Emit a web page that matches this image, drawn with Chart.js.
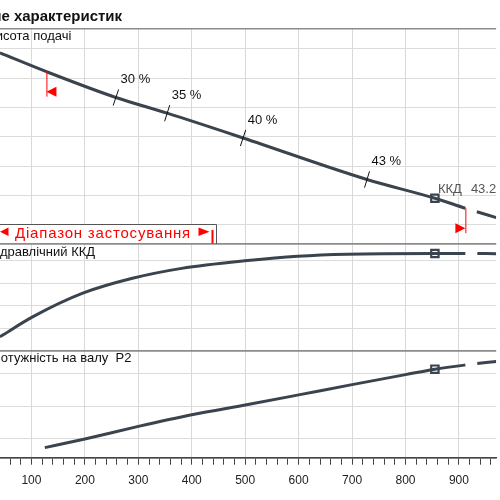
<!DOCTYPE html>
<html>
<head>
<meta charset="utf-8">
<style>
  html, body { margin: 0; padding: 0; background: #fff; overflow: hidden; }
  #wrap { position: relative; width: 500px; height: 500px; }
</style>
</head>
<body>
<div id="wrap"><canvas id="chart" width="500" height="500"></canvas></div>
<script src="https://cdn.jsdelivr.net/npm/chart.js@4.4.1/dist/chart.umd.min.js"></script>
<script>
// flow (x) and curve values
const headFlow = [41, 128, 258, 354, 496, 728, 855, 912, 970];
const headValues = [21.73, 20.45, 18.69, 17.62, 15.93, 13.10, 11.82, 11.14, 10.50];

const effFlow = [41, 103, 196, 289, 381, 505, 598, 691, 855, 912, 970];
const effValues = [6.3, 15.2, 25.6, 32.2, 36.6, 40.1, 42.0, 42.9, 43.2, 43.2, 43.1];

const powerFlow = [125, 200, 300, 400, 505, 600, 700, 800, 855, 912, 970];
const powerValues = [0.71, 0.98, 1.37, 1.73, 2.05, 2.35, 2.67, 2.98, 3.15, 3.28, 3.39];

// duty point
const dutyFlow = 855;
const dutyHead = 11.82;
const dutyEff = 43.2;
const dutyPower = 3.15;

// application range
const rangeMin = 128;
const rangeMax = 912;

// efficiency marks on the head curve
const effMarkFlow = [258, 354, 496, 728];
const effMarkLabels = ['30 %', '35 %', '40 %', '43 %'];

// axes
const xTickLabels = [100, 200, 300, 400, 500, 600, 700, 800, 900];
const xMinorStep = 20;
const headGrid = [10, 12, 14, 16, 18, 20, 22];
const effGrid = [10, 20, 30, 40];
const powerGrid = [1, 2, 3];

const panelTitles = ['Висота подачі', 'Гідравлічний ККД', 'Потужність на валу  P2'];
const chartTitle = 'Поле характеристик';
const rangeText = 'Діапазон застосування';

const lineColor = '#3a444e';
const FONT = '"Liberation Sans", Arial, sans-serif';

Chart.defaults.font.family = FONT;

const toPoints = (xs, ys) => xs.map((v, i) => ({ x: v, y: ys[i] }));

function interp(xs, ys, v) {
    for (let i = 1; i < xs.length; i++) {
        if (v <= xs[i]) {
            const t = (v - xs[i - 1]) / (xs[i] - xs[i - 1]);
            return ys[i - 1] + t * (ys[i] - ys[i - 1]);
        }
    }
    return ys[ys.length - 1];
}

function curve(xs, ys, axis) {
    return {
        data: toPoints(xs, ys),
        yAxisID: axis,
        showLine: true,
        borderColor: lineColor,
        borderWidth: 3,
        pointRadius: 0,
        cubicInterpolationMode: 'monotone',
        segment: {
            borderDash: c => c.p0.parsed.x >= rangeMax ? [22, 12] : undefined,
            borderDashOffset: c => c.p0.parsed.x >= rangeMax ? 22 : undefined
        }
    };
}

function duty(value, axis) {
    return {
        data: [{ x: dutyFlow, y: value }],
        yAxisID: axis,
        pointStyle: 'rect',
        pointRadius: 5.2,
        pointBorderWidth: 2.2,
        pointBorderColor: lineColor,
        pointBackgroundColor: '#fff'
    };
}

function panelScale(min, max, grid, weight) {
    const edge = c => c.tick && (c.tick.value === min || c.tick.value === max);
    return {
        type: 'linear',
        position: 'left',
        stack: 'panels',
        stackWeight: weight,
        min: min,
        max: max,
        afterBuildTicks: s => { s.ticks = [min, ...grid, max].map(v => ({ value: v })); },
        afterFit: s => { s.width = 0; },
        ticks: { display: false },
        border: { display: false },
        grid: {
            drawTicks: false,
            color: c => edge(c) ? '#8c8c8c' : '#dcdcdc',
            lineWidth: c => edge(c) ? 1.5 : 1
        }
    };
}

const overlay = {
    id: 'overlay',
    afterDatasetsDraw(chart) {
        const { ctx, chartArea, scales: { x, yH, yE, yP } } = chart;
        const headAt = f => [x.getPixelForValue(f), yH.getPixelForValue(interp(headFlow, headValues, f))];
        ctx.save();

        // title and panel names
        ctx.fillStyle = '#111';
        ctx.font = 'bold 15px ' + FONT;
        ctx.fillText(chartTitle, chartArea.left - 27.5, 20.7);
        ctx.font = '13px ' + FONT;
        ctx.fillText(panelTitles[0], chartArea.left - 13, yH.top + 11);
        ctx.fillText(panelTitles[1], chartArea.left - 10, yE.top + 11.7);
        ctx.fillText(panelTitles[2], chartArea.left - 8.5, yP.top + 11.3);

        // efficiency marks on the head curve
        ctx.strokeStyle = '#111';
        ctx.lineWidth = 1;
        effMarkFlow.forEach((f, i) => {
            const [px, py] = headAt(f);
            const [ax, ay] = headAt(f - 15);
            const [bx, by] = headAt(f + 15);
            const len = Math.hypot(bx - ax, by - ay);
            const nx = (by - ay) / len, ny = -(bx - ax) / len;
            const half = 8.5;
            ctx.beginPath();
            ctx.moveTo(px - nx * half, py - ny * half);
            ctx.lineTo(px + nx * half, py + ny * half);
            ctx.stroke();
            ctx.fillText(effMarkLabels[i], px + nx * half + 2, py + ny * half - 6);
        });

        // duty point label
        const [dx, dy] = headAt(dutyFlow);
        ctx.fillStyle = '#555';
        ctx.fillText('ККД', dx + 3, dy - 5);
        ctx.fillText(dutyEff + ' %', dx + 36, dy - 5);

        // application range markers
        ctx.strokeStyle = '#f00';
        ctx.fillStyle = '#f00';
        [[rangeMin, 1], [rangeMax, -1]].forEach(([f, dir]) => {
            const [px, py] = headAt(f);
            ctx.beginPath();
            ctx.moveTo(px + 0.5, py);
            ctx.lineTo(px + 0.5, py + 25);
            ctx.stroke();
            ctx.beginPath();
            ctx.moveTo(px, py + 20);
            ctx.lineTo(px + dir * 10, py + 15);
            ctx.lineTo(px + dir * 10, py + 25);
            ctx.closePath();
            ctx.fill();
        });

        // application range box
        const boxBottom = yH.bottom;
        const boxTop = boxBottom - 20;
        const boxRight = 216.5;
        ctx.fillStyle = '#fff';
        ctx.fillRect(-2, boxTop, boxRight + 2, boxBottom - boxTop - 1);
        ctx.strokeStyle = '#555';
        ctx.beginPath();
        ctx.moveTo(-2, boxTop + 0.5);
        ctx.lineTo(boxRight, boxTop + 0.5);
        ctx.lineTo(boxRight, boxBottom);
        ctx.stroke();
        ctx.fillStyle = '#f00';
        ctx.font = '15px ' + FONT;
        ctx.letterSpacing = '0.8px';
        ctx.fillText(rangeText, 15, boxTop + 13.5);
        ctx.letterSpacing = '0px';
        const my = boxTop + 7.7;
        ctx.beginPath();
        ctx.moveTo(0, my); ctx.lineTo(8.5, my - 4.2); ctx.lineTo(8.5, my + 4.2); ctx.closePath();
        ctx.fill();
        ctx.beginPath();
        ctx.moveTo(209.5, my); ctx.lineTo(198.5, my - 4.2); ctx.lineTo(198.5, my + 4.2); ctx.closePath();
        ctx.fill();
        ctx.fillRect(211.5, boxTop + 6, 2, 13.5);

        ctx.restore();
    }
};

const minorTicks = [];
for (let v = 60; v <= 960; v += xMinorStep) minorTicks.push(v);

new Chart(document.getElementById('chart'), {
    type: 'scatter',
    data: {
        datasets: [
            curve(headFlow, headValues, 'yH'),
            curve(effFlow, effValues, 'yE'),
            curve(powerFlow, powerValues, 'yP'),
            duty(dutyHead, 'yH'),
            duty(dutyEff, 'yE'),
            duty(dutyPower, 'yP')
        ]
    },
    options: {
        responsive: false,
        animation: false,
        events: [],
        layout: { autoPadding: false, padding: { top: 29, left: 0, right: 0, bottom: 0 } },
        plugins: { legend: { display: false }, tooltip: { enabled: false } },
        scales: {
            x: {
                type: 'linear',
                min: 41.13,
                max: 969.6,
                afterBuildTicks: s => { s.ticks = minorTicks.map(v => ({ value: v })); },
                afterFit: s => { s.height = 42.3; },
                border: { color: '#444', width: 1.5 },
                grid: {
                    color: c => xTickLabels.includes(c.tick && c.tick.value) ? '#d9d9d9' : 'rgba(0,0,0,0)',
                    tickColor: '#444',
                    tickLength: 7,
                    tickWidth: 1
                },
                ticks: {
                    autoSkip: false,
                    maxRotation: 0,
                    padding: 9,
                    color: '#222',
                    font: { size: 12 },
                    callback: v => xTickLabels.includes(v) ? String(v) : ''
                }
            },
            yP: panelScale(0.397, 3.715, powerGrid, 106.7),
            yE: panelScale(0, 47.4, effGrid, 107),
            yH: panelScale(8.70, 23.36, headGrid, 215)
        }
    },
    plugins: [overlay]
});
</script>
</body>
</html>
